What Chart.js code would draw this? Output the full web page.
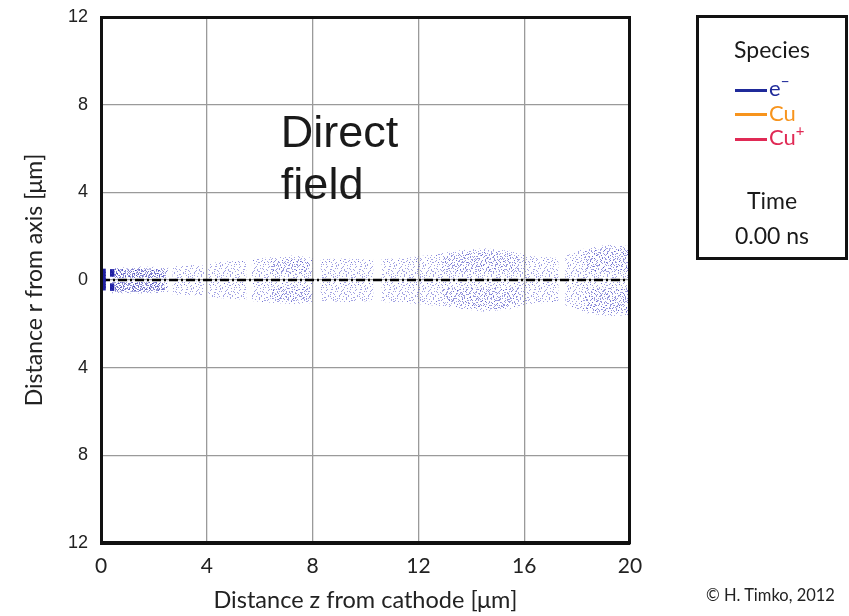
<!DOCTYPE html>
<html>
<head>
<meta charset="utf-8">
<script src="https://cdn.jsdelivr.net/npm/chart.js@4.4.1/dist/chart.umd.min.js"></script>
<style>
  html, body { margin: 0; padding: 0; background: #fff; }
  #wrap { position: relative; width: 849px; height: 616px; overflow: hidden; }
  #chart { position: absolute; left: 0; top: 0; }
  #legend {
    position: absolute; left: 696px; top: 15px; width: 146px; height: 239px;
    border: 3px solid #111; font-family: Lato, "DejaVu Sans", sans-serif; color: #1a1a1a;
  }
  #legend .title { position: absolute; left: 0; width: 100%; text-align: center; font-size: 23px; line-height: 28px; }
  #legend .row { position: absolute; left: 36px; height: 24px; font-size: 22px; line-height: 24px; white-space: nowrap; }
  #legend .row span.swatch { display: inline-block; width: 32px; height: 3px; vertical-align: middle; margin-right: 2px; }
  #legend .row span.charge { display: inline-block; font-size: 15px; line-height: 0; position: relative; top: -9px; }
  #copy { position: absolute; left: 706px; top: 585px; font-family: Lato, sans-serif; font-size: 16.5px; color: #222; }
</style>
</head>
<body>
<div id="wrap">
  <canvas id="chart" width="849" height="616"></canvas>
  <div id="legend"></div>
  <div id="copy">&copy; H. Timko, 2012</div>
</div>
<script>
// Axis ticks (r is shown as distance from axis, so negatives display unsigned)
const zTicks = [0, 4, 8, 12, 16, 20];
const rTicks = [-12, -8, -4, 0, 4, 8, 12];

// Electron cloud envelope: z positions, outer radius above / below the axis (null = gap)
const cloudZ     = [0.35, 1.5, 2.55, 2.62, 2.7, 3.3, 3.9, 3.97, 4.05, 4.8, 5.5, 5.6, 5.7, 6.5, 7.3, 8.0, 8.15, 8.3, 9.2, 10.3, 10.45, 10.6, 11.5, 12.5, 13.5, 14.5, 15.5, 16.2, 17.3, 17.45, 17.55, 18.3, 19.2, 19.95];
const cloudUpper = [0.55, 0.62, 0.58, null, 0.62, 0.68, 0.66, null, 0.76, 0.85, 0.88, null, 0.95, 1.05, 1.12, 1.02, null, 0.95, 0.98, 0.92, null, 0.95, 1.0, 1.15, 1.35, 1.45, 1.32, 1.1, 1.0, null, 1.1, 1.45, 1.62, 1.55];
const cloudLower = [-0.6, -0.62, -0.58, null, -0.66, -0.7, -0.68, null, -0.78, -0.86, -0.9, null, -0.96, -1.05, -1.1, -1.05, null, -0.95, -1.0, -0.96, null, -1.0, -1.05, -1.15, -1.3, -1.45, -1.32, -1.1, -1.0, null, -1.15, -1.5, -1.65, -1.6];
const cloudCore  = [0.08, 0.08, 0.08, null, 0.08, 0.08, 0.08, null, 0.08, 0.08, 0.08, null, 0.08, 0.08, 0.08, 0.08, null, 0.08, 0.08, 0.08, null, 0.08, 0.08, 0.08, 0.08, 0.08, 0.08, 0.08, 0.08, null, 0.08, 0.08, 0.08, 0.08];

// Denser parts of the cloud
const denseZ     = [0.35, 1.5, 2.5, 2.6, 6.4, 7.2, 7.9, 8.0, 12.9, 13.8, 14.8, 15.8, 15.9, 18.3, 19.2, 19.95];
const denseUpper = [0.5, 0.55, 0.5, null, 0.85, 0.95, 0.9, null, 1.0, 1.25, 1.3, 1.1, null, 1.3, 1.45, 1.4];
const denseLower = [-0.52, -0.55, -0.5, null, -0.9, -0.95, -0.9, null, -1.0, -1.2, -1.35, -1.1, null, -1.35, -1.5, -1.45];
const denseCore  = [0.1, 0.1, 0.1, null, 0.3, 0.3, 0.3, null, 0.35, 0.35, 0.35, 0.35, null, 0.35, 0.35, 0.35];

// Freshly emitted electrons close to the cathode
const nearZ     = [0.4, 1.3, 2.4];
const nearUpper = [0.48, 0.5, 0.45];
const nearLower = [-0.5, -0.52, -0.48];
const nearCore  = [0.1, 0.1, 0.1];

// Emission spot at the cathode surface
const spotZ = [0.1, 0.1, 0.1, 0.1, 0.1, 0.1, 0.1, 0.42, 0.42, 0.42, 0.42];
const spotR = [0.42, 0.28, 0.14, 0.0, -0.14, -0.28, -0.38, 0.4, 0.25, -0.25, -0.4];

// Symmetry axis
const axisZ = [0, 20];
const axisR = [0, 0];

// Legend entries
const speciesBase = ['e', 'Cu', 'Cu'];
const speciesCharge = ['\u2212', '', '+'];
const speciesColors = ['#1f2a9a', '#f7941d', '#e02a55'];
const timeLabel = '0.00 ns';

const pts = (xs, ys) => xs.map((x, i) => ({ x: x, y: ys[i] }));
const neg = a => a.map(v => v === null ? null : -v);

const canvas = document.getElementById('chart');
const ctx = canvas.getContext('2d');

// Dot texture used to fill the particle cloud; every dot is also stamped mirrored
function dotPattern(w, h, dots, color, shift) {
  const c = document.createElement('canvas');
  c.width = w; c.height = h;
  const g = c.getContext('2d');
  g.fillStyle = color;
  dots.forEach(d => {
    g.fillRect(d[0] % w, d[1] % h, 1, 1);
    g.fillRect(w - 1 - (d[0] % w), (d[1] + shift) % h, 1, 1);
  });
  return ctx.createPattern(c, 'repeat');
}
const sparseDots = [[1,2],[7,0],[12,3],[18,1],[24,4],[27,0],[4,6],[10,8],[15,6],[21,7],[26,9],[2,11],[8,13],[13,11],[19,12],[23,14],[28,12],[5,16],[11,18],[16,15],[20,19],[25,17],[0,20],[6,21],[14,21],[18,22],[27,21],[3,9],[9,4],[22,10],[16,2],[12,16],[24,20],
                    [4,1],[14,0],[21,2],[26,6],[0,8],[6,8],[17,9],[11,5],[25,11],[7,11],[17,13],[1,15],[14,17],[22,17],[9,20],[27,18],[3,22],[20,22],[12,13],[25,2]];
const denseDots = [[2,1],[9,3],[15,0],[20,4],[5,7],[12,8],[18,9],[1,12],[8,14],[14,13],[21,15],[4,17],[11,19],[17,18],[0,5],[22,0],[6,10],[16,5],[19,13],[10,16],
                   [6,2],[13,4],[3,9],[10,11],[17,2],[20,10],[14,16],[7,18],[1,16],[19,6]];
const sparseFill = dotPattern(29, 23, sparseDots, 'rgba(70,70,200,0.5)', 7);
const denseFill = dotPattern(23, 20, denseDots, 'rgba(50,50,185,0.55)', 9);
const nearFill = dotPattern(17, 13, denseDots, 'rgba(35,35,165,0.6)', 5);

const hidden = { showLine: false, pointRadius: 0, borderWidth: 0, fill: false, spanGaps: false };

// Upper and lower halves of one cloud layer, filled between the outer edge and the axis gap
function band(zs, upper, lower, core, fillStyle) {
  return [
    { data: pts(zs, upper), ...hidden, fill: '+1', backgroundColor: fillStyle, showLine: true },
    { data: pts(zs, core), ...hidden },
    { data: pts(zs, neg(core)), ...hidden },
    { data: pts(zs, lower), ...hidden, fill: '-1', backgroundColor: fillStyle, showLine: true }
  ];
}

// Frame around the plot area and the inline label
const framePlugin = {
  id: 'frame',
  afterDraw(chart) {
    const a = chart.chartArea, c = chart.ctx;
    c.save();
    c.strokeStyle = '#111';
    c.lineWidth = 3;
    c.strokeRect(a.left + 0.5, a.top + 0.5, a.right - a.left - 1, a.bottom - a.top - 1);
    const x = chart.scales.x.getPixelForValue(6.8);
    c.fillStyle = '#1a1a1a';
    c.font = '45px "Liberation Sans", Arial, sans-serif';
    c.textBaseline = 'alphabetic';
    c.fillText('Direct', x, chart.scales.y.getPixelForValue(6.05));
    c.fillText('field', x, chart.scales.y.getPixelForValue(3.7));
    c.restore();
  }
};

new Chart(ctx, {
  type: 'line',
  data: {
    datasets: [
      ...band(cloudZ, cloudUpper, cloudLower, cloudCore, sparseFill),
      ...band(denseZ, denseUpper, denseLower, denseCore, denseFill),
      ...band(nearZ, nearUpper, nearLower, nearCore, nearFill),
      { data: pts(spotZ, spotR), showLine: false, pointStyle: 'rect', pointRadius: 3, borderWidth: 0,
        backgroundColor: '#1f1fa0' },
      { data: pts(axisZ, axisR), borderColor: '#000', borderWidth: 2.5, borderDash: [9, 3, 2, 3],
        pointRadius: 0, fill: false }
    ]
  },
  options: {
    responsive: false,
    animation: false,
    events: [],
    layout: { padding: { left: 0, right: 219, top: 17, bottom: 0 } },
    plugins: { legend: { display: false }, tooltip: { enabled: false } },
    scales: {
      x: {
        type: 'linear', min: 0, max: 20,
        afterBuildTicks: s => { s.ticks = zTicks.map(v => ({ value: v })); },
        afterFit: s => { s.height = 73; s.paddingLeft = 0; s.paddingRight = 0; },
        grid: { color: '#9a9a9a', lineWidth: 1.3, drawTicks: false },
        border: { color: '#111', width: 3 },
        ticks: { color: '#222', padding: 11, font: { family: 'Lato', size: 21 } },
        title: { display: true, text: 'Distance z from cathode [\u03BCm]', color: '#222',
                 font: { family: 'Lato', size: 23.5 }, padding: { top: 2, bottom: 1 } }
      },
      y: {
        type: 'linear', min: -12, max: 12,
        afterBuildTicks: s => { s.ticks = rTicks.map(v => ({ value: v })); },
        afterFit: s => { s.width = 101; s.paddingTop = 0; s.paddingBottom = 0; },
        grid: { color: '#9a9a9a', lineWidth: 1.3, drawTicks: false },
        border: { color: '#111', width: 3 },
        ticks: { color: '#222', padding: 13, font: { family: '"Liberation Sans"', size: 18 },
                 callback: v => String(Math.abs(v)) },
        title: { display: true, text: 'Distance r from axis [\u03BCm]', color: '#222',
                 font: { family: 'Lato', size: 23 }, padding: { top: 21, bottom: 0 } }
      }
    }
  },
  plugins: [framePlugin]
});

// Species / time legend
const legend = document.getElementById('legend');
let html = '<div class="title" style="top:17px">Species</div>';
speciesBase.forEach((name, i) => {
  const charge = speciesCharge[i] ? '<span class="charge">' + speciesCharge[i] + '</span>' : '';
  html += '<div class="row" style="top:' + (58 + i * 24.5) + 'px;color:' + speciesColors[i] + '">' +
          '<span class="swatch" style="background:' + speciesColors[i] + '"></span>' + name + charge + '</div>';
});
html += '<div class="title" style="top:168px">Time</div>';
html += '<div class="title" style="top:203px">' + timeLabel + '</div>';
legend.innerHTML = html;
</script>
</body>
</html>
